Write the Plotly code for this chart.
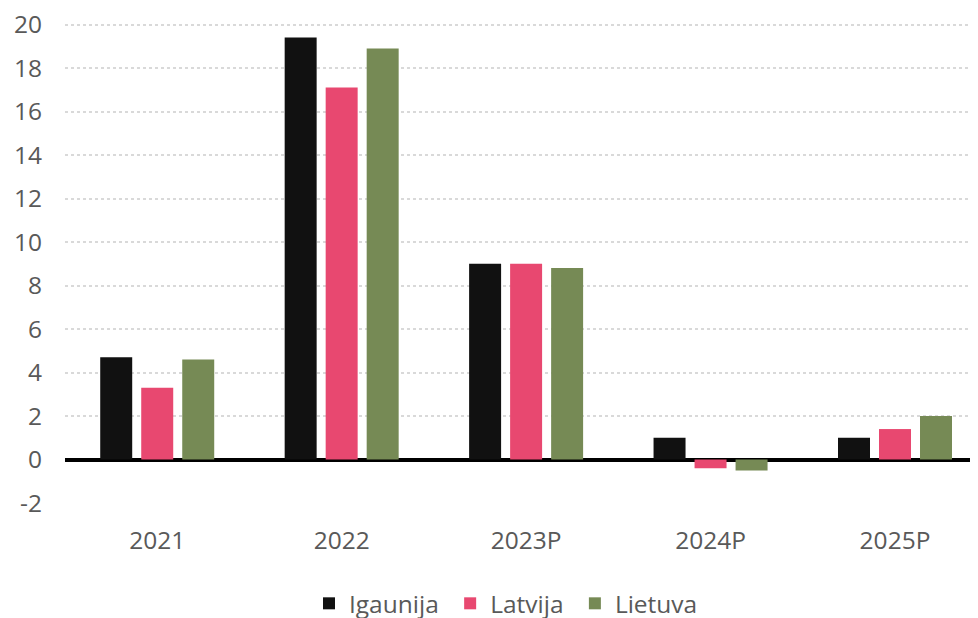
import plotly.graph_objects as go

categories = ["2021", "2022", "2023P", "2024P", "2025P"]
igaunija = [4.7, 19.4, 9.0, 1.0, 1.0]
latvija = [3.3, 17.1, 9.0, -0.4, 1.4]
lietuva = [4.6, 18.9, 8.8, -0.5, 2.0]
y_ticks = [-2, 0, 2, 4, 6, 8, 10, 12, 14, 16, 18, 20]
y_tick_labels = ["-2", "0", "2", "4", "6", "8", "10", "12", "14", "16", "18", "20"]

series = [("Igaunija&nbsp;", igaunija, "#111111"),
          ("Latvija&nbsp;", latvija, "#E84870"),
          ("Lietuva", lietuva, "#768A55")]

fig = go.Figure()
for name, vals, col in series:
    fig.add_trace(go.Bar(x=categories, y=vals, name=name, marker_color=col,
                         marker_line_width=0))

font_family = "Open Sans"
# the page body has an 8px default margin, so the figure is sized to 970x610
fig.update_layout(
    width=970, height=610,
    margin=dict(l=57, r=0, t=9.5, b=115, autoexpand=False),
    paper_bgcolor="white", plot_bgcolor="white",
    barmode="group", bargap=0.333, bargroupgap=0.22,
    font=dict(family=font_family, size=24.5, color="#595959"),
    showlegend=True,
    legend=dict(orientation="h", x=0.483, xanchor="center", y=-0.207, yanchor="middle",
                font=dict(size=24.5, color="#595959"), itemwidth=30,
                traceorder="normal"),
)
fig.update_xaxes(range=[-0.5, 4.45], showgrid=False, showline=False, ticks="",
                 automargin=False, ticklabelstandoff=20,
                 tickfont=dict(size=24.5, color="#595959"))
fig.update_yaxes(range=[-2, 20.3], tickvals=y_ticks, ticktext=y_tick_labels, showgrid=True,
                 gridcolor="#D9D9D9", gridwidth=1.5, griddash="dot",
                 zeroline=True, zerolinecolor="#000000", zerolinewidth=3.5,
                 showline=False, ticks="", ticklabelstandoff=22, automargin=False,
                 ticklabeloverflow="allow",
                 tickfont=dict(size=24.5, color="#595959"))

fig.write_html("out.html")
